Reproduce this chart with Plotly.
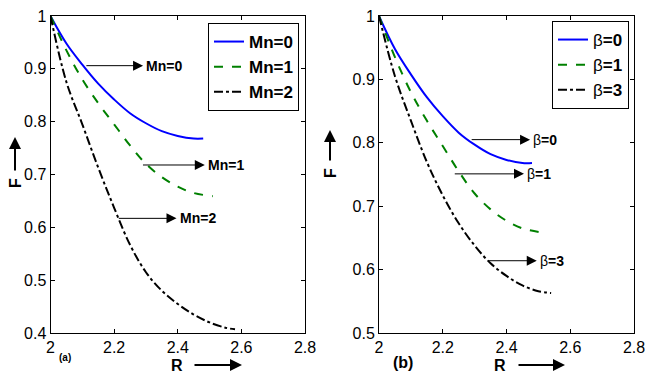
import plotly.graph_objects as go

# ---- data (panel a: Mn) ----
R_mn0 = [2.0, 2.05, 2.1, 2.15, 2.2, 2.25, 2.3, 2.35, 2.4, 2.45, 2.48]
F_mn0 = [1.0, 0.948, 0.908, 0.872, 0.842, 0.816, 0.797, 0.782, 0.773, 0.768, 0.768]
R_mn1 = [2.0, 2.05, 2.1, 2.15, 2.2, 2.25, 2.3, 2.35, 2.4, 2.45, 2.51]
F_mn1 = [1.0, 0.935, 0.88, 0.835, 0.795, 0.755, 0.72, 0.695, 0.677, 0.665, 0.659]
R_mn2 = [2.0, 2.05, 2.1, 2.15, 2.2, 2.25, 2.3, 2.35, 2.4, 2.45, 2.5, 2.55, 2.58]
F_mn2 = [1.0, 0.875, 0.795, 0.713, 0.637, 0.567, 0.515, 0.48, 0.455, 0.435, 0.42, 0.41, 0.407]

# ---- data (panel b: beta) ----
R_b0 = R_mn0
F_b0 = F_mn0
R_b1 = [2.0, 2.05, 2.1, 2.15, 2.2, 2.25, 2.3, 2.35, 2.4, 2.45, 2.505]
F_b1 = [1.0, 0.935, 0.88, 0.835, 0.795, 0.755, 0.72, 0.695, 0.677, 0.665, 0.659]
R_b3 = [2.0, 2.05, 2.1, 2.15, 2.2, 2.25, 2.3, 2.35, 2.4, 2.45, 2.5, 2.54]
F_b3 = [1.0, 0.905, 0.835, 0.77, 0.717, 0.673, 0.638, 0.61, 0.59, 0.575, 0.566, 0.563]

x_ticks = [2, 2.2, 2.4, 2.6, 2.8]
y_ticks_a = [0.4, 0.5, 0.6, 0.7, 0.8, 0.9, 1]
y_ticks_b = [0.5, 0.6, 0.7, 0.8, 0.9, 1]

# curve labels: (tail R, F, head R, label)
labels_a = [(2.108, 0.906, 2.291, "<b>Mn=0</b>"), (2.286, 0.718, 2.485, "<b>Mn=1</b>"), (2.21, 0.617, 2.396, "<b>Mn=2</b>")]
labels_b = [(2.286, 0.805, 2.474, "β<b>=0</b>"), (2.233, 0.751, 2.455, "β<b>=1</b>"), (2.338, 0.614, 2.495, "β<b>=3</b>")]

W, H = 645, 376
def px(x): return x / W
def py(y): return 1 - y / H

fig = go.Figure()
styles = [dict(color="rgb(0,0,255)", width=2, dash="solid"),
          dict(color="rgb(0,128,0)", width=2, dash="dash"),
          dict(color="black", width=2, dash="dashdot")]

for (R, F, name), st in zip([(R_mn0, F_mn0, "<b>Mn=0</b>"), (R_mn1, F_mn1, "<b>Mn=1</b>"), (R_mn2, F_mn2, "<b>Mn=2</b>")], styles):
    fig.add_trace(go.Scatter(x=R, y=F, mode="lines", name=name, line=dict(shape="spline", **st),
                             xaxis="x", yaxis="y", legend="legend"))
for (R, F, name), st in zip([(R_b0, F_b0, "β<b>=0</b>"), (R_b1, F_b1, "β<b>=1</b>"), (R_b3, F_b3, "β<b>=3</b>")], styles):
    fig.add_trace(go.Scatter(x=R, y=F, mode="lines", name=name, line=dict(shape="spline", **st),
                             xaxis="x2", yaxis="y2", legend="legend2"))

FAM = "Liberation Sans, Arial"
axfont = dict(family=FAM, size=16, color="black")
common = dict(showline=True, linecolor="black", linewidth=1, mirror="ticks", ticks="inside", ticklen=4,
              tickcolor="black", showgrid=False, zeroline=False, tickfont=axfont, automargin=False,
              ticklabeloverflow="allow")
fig.update_layout(
    width=W, height=H, margin=dict(l=0, r=0, t=0, b=0),
    paper_bgcolor="white", plot_bgcolor="white",
    xaxis=dict(domain=[px(50.5), px(305)], range=[2, 2.8], tickvals=x_ticks, ticktext=[str(v) for v in x_ticks], anchor="y", **common),
    yaxis=dict(domain=[py(333), py(16)], range=[0.4, 1.0], tickvals=y_ticks_a, ticktext=[str(v) for v in y_ticks_a], anchor="x", **common),
    xaxis2=dict(domain=[px(379), px(634)], range=[2, 2.8], tickvals=x_ticks, ticktext=[str(v) for v in x_ticks], anchor="y2", **common),
    yaxis2=dict(domain=[py(333), py(16)], range=[0.5, 1.0], tickvals=y_ticks_b, ticktext=[str(v) for v in y_ticks_b], anchor="x2", **common),
    legend=dict(x=px(299), y=py(23), xanchor="right", yanchor="top", bordercolor="black", borderwidth=1,
                bgcolor="white", font=dict(family=FAM, size=17, color="black"), tracegroupgap=0),
    legend2=dict(x=px(629), y=py(21), xanchor="right", yanchor="top", bordercolor="black", borderwidth=1,
                 bgcolor="white", font=dict(family=FAM, size=17, color="black"), tracegroupgap=0),
    showlegend=True,
)

ann = []
lblfont = dict(family=FAM, size=14, color="black")
for (xr, yr, labels) in [("x", "y", labels_a), ("x2", "y2", labels_b)]:
    for tr, f, hr, txt in labels:
        ann.append(dict(xref=xr, yref=yr, x=hr, y=f, axref=xr, ayref=yr, ax=tr, ay=f, text="",
                        showarrow=True, arrowhead=2, arrowsize=2, arrowwidth=1, arrowcolor="black"))
        ann.append(dict(xref=xr, yref=yr, x=hr + 0.004, y=f, text=txt, showarrow=False,
                        xanchor="left", yanchor="middle", font=lblfont))

tfont = dict(family=FAM, size=16, color="black")
# axis titles with arrows (paper coords)
for (rx, ry, a0, a1) in [(177, 365, 193, 242), (500, 365, 517, 565)]:
    ann.append(dict(xref="paper", yref="paper", x=px(rx), y=py(ry), text="<b>R</b>", showarrow=False,
                    xanchor="center", yanchor="middle", font=tfont))
    ann.append(dict(xref="paper", yref="paper", x=px(a1), y=py(ry), ax=-(a1 - a0), ay=0, text="",
                    showarrow=True, arrowhead=2, arrowsize=1.2, arrowwidth=2, arrowcolor="black"))
for (fx, fy, a0, a1) in [(15, 183, 172, 137), (330, 173, 162, 130)]:
    ann.append(dict(xref="paper", yref="paper", x=px(fx), y=py(fy), text="<b>F</b>", showarrow=False,
                    textangle=-90, xanchor="center", yanchor="middle", font=tfont))
    ann.append(dict(xref="paper", yref="paper", x=px(fx), y=py(a1), ax=0, ay=(a0 - a1), text="",
                    showarrow=True, arrowhead=2, arrowsize=1.2, arrowwidth=2, arrowcolor="black"))
ann.append(dict(xref="paper", yref="paper", x=px(65), y=py(357), text="<b>(a)</b>", showarrow=False,
                xanchor="center", yanchor="middle", font=dict(family=FAM, size=10, color="black")))
ann.append(dict(xref="paper", yref="paper", x=px(403), y=py(362), text="<b>(b)</b>", showarrow=False,
                xanchor="center", yanchor="middle", font=dict(family=FAM, size=16, color="black")))
fig.update_layout(annotations=ann)

fig.write_html("out.html")
